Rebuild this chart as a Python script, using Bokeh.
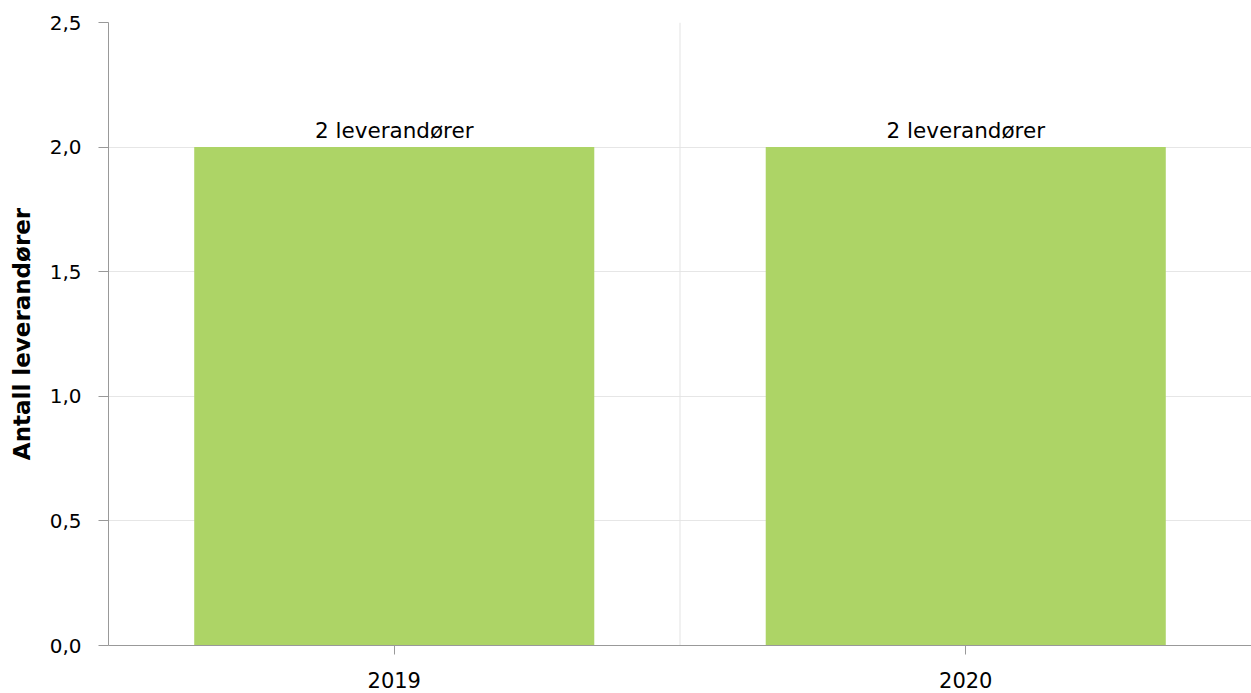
from bokeh.plotting import figure
from bokeh.models import ColumnDataSource, LabelSet, Span, CustomJSTickFormatter, FixedTicker, Range1d
from bokeh.core.properties import value
from bokeh.embed import file_html
from bokeh.resources import INLINE

years = ["2019", "2020"]
suppliers = [2, 2]
bar_labels = ["2 leverandører", "2 leverandører"]
y_ticks = [0.0, 0.5, 1.0, 1.5, 2.0, 2.5]
y_title = "Antall leverandører"

FONT = "DejaVu Sans"
src = ColumnDataSource(dict(x=years, top=suppliers, label=bar_labels))

p = figure(x_range=years, y_range=Range1d(0, 2.5), width=1251, height=693,
           output_backend="svg", toolbar_location=None,
           min_border_left=108, min_border_right=0, min_border_top=22, min_border_bottom=48)
p.outline_line_color = None
p.background_fill_color = "white"

p.vbar(x="x", top="top", width=0.7, source=src, fill_color="#add466", line_color=None)

labels = LabelSet(x="x", y="top", text="label", source=src, text_align="center",
                  text_baseline="bottom", y_offset=4, text_font_size="21.5px",
                  text_font=value(FONT), text_color="#000000")
p.add_layout(labels)

for i in range(1, len(years)):
    p.add_layout(Span(location=i, dimension="height", line_color="#e3e3e3", line_width=1, level="underlay"))

p.xgrid.grid_line_color = None
p.ygrid.grid_line_color = "#e6e6e6"

p.yaxis.ticker = FixedTicker(ticks=y_ticks)
p.yaxis.formatter = CustomJSTickFormatter(code="return tick.toFixed(1).replace('.', ',');")
p.yaxis.axis_label = y_title
p.yaxis.axis_label_text_font = FONT
p.yaxis.axis_label_text_font_style = "bold"
p.yaxis.axis_label_text_font_size = "23px"
p.yaxis.axis_label_text_color = "#000000"
p.yaxis.axis_label_standoff = 12
p.yaxis.major_tick_out = 10
p.yaxis.major_tick_in = 0
p.yaxis.minor_tick_line_color = None
p.yaxis.major_label_standoff = 17

p.xaxis.major_tick_out = 9
p.xaxis.major_tick_in = 0
p.xaxis.major_label_standoff = 17

for ax in (p.xaxis, p.yaxis):
    ax.axis_line_color = "#999999"
    ax.major_tick_line_color = "#999999"
    ax.major_label_text_font = FONT
    ax.major_label_text_color = "#000000"
p.yaxis.major_label_text_font_size = "20px"
p.xaxis.major_label_text_font_size = "21px"

open("out.html", "w").write(file_html(p, INLINE))
